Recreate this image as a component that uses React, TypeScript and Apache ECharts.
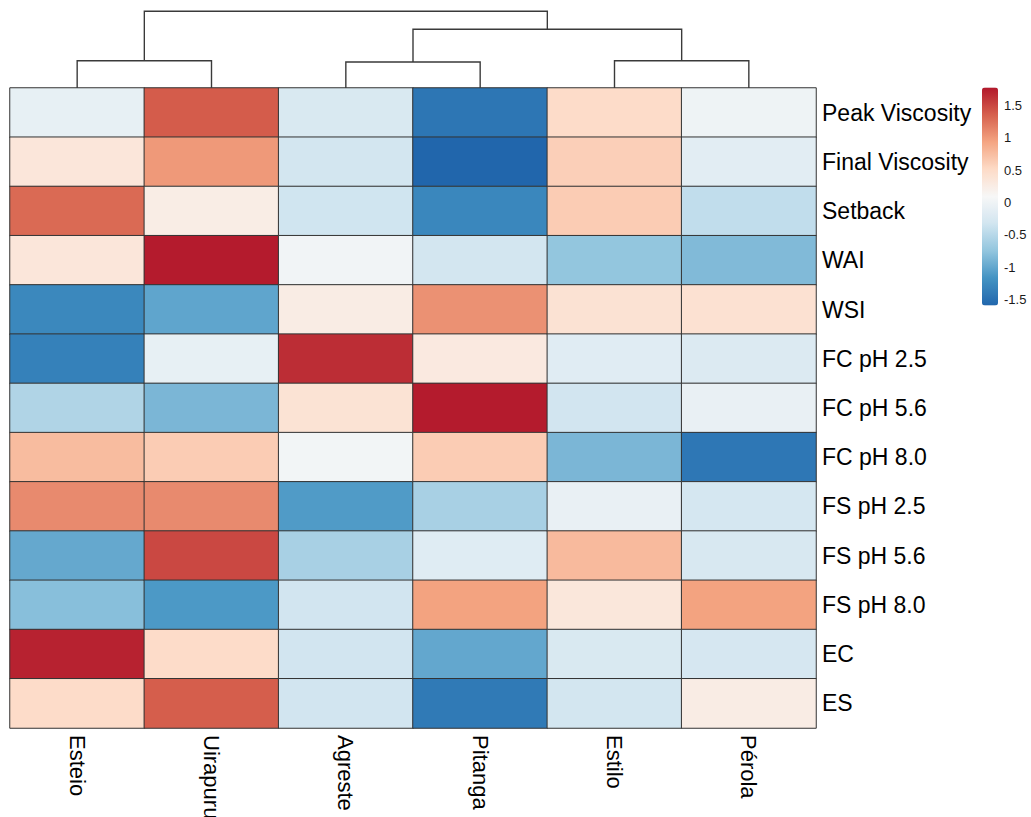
import React, { useEffect, useRef } from "react";
import * as echarts from "echarts";

// Columns (cultivars) in dendrogram order
const cultivars = ["Esteio", "Uirapuru", "Agreste", "Pitanga", "Estilo", "Pérola"];

// Rows (traits), top to bottom
const traits = [
  "Peak Viscosity",
  "Final Viscosity",
  "Setback",
  "WAI",
  "WSI",
  "FC pH 2.5",
  "FC pH 5.6",
  "FC pH 8.0",
  "FS pH 2.5",
  "FS pH 5.6",
  "FS pH 8.0",
  "EC",
  "ES",
];

// Scaled values per cultivar, in trait order
const esteio = [-0.08, 0.35, 1.3, 0.35, -1.27, -1.34, -0.55, 0.76, 1.1, -0.99, -0.8, 1.72, 0.5];
const uirapuru = [1.38, 1.01, 0.25, 1.76, -1.02, -0.08, -0.87, 0.63, 1.1, 1.5, -1.12, 0.5, 1.37];
const agreste = [-0.24, -0.3, -0.33, 0.03, 0.26, 1.66, 0.4, 0.04, -1.1, -0.6, -0.32, -0.32, -0.32];
const pitanga = [-1.44, -1.59, -1.28, -0.3, 1.06, 0.3, 1.76, 0.63, -0.6, -0.17, 0.95, -1.0, -1.4];
const estilo = [0.5, 0.61, 0.63, -0.74, 0.41, -0.16, -0.32, -0.87, -0.06, 0.77, 0.34, -0.24, -0.3];
const perola = [0.0, -0.14, -0.43, -0.84, 0.42, -0.2, -0.06, -1.43, -0.28, -0.25, 0.95, -0.27, 0.26];

// Column dendrogram (hclust-style merge table: negative = leaf, positive = earlier merge)
const mergePairs = [
  [-1, -2],
  [-3, -4],
  [-5, -6],
  [2, 3],
  [1, 4],
];
const mergeHeights = [2.73, 2.6, 2.73, 5.87, 7.67];

// Colour scale
const colorMin = -1.59;
const colorMax = 1.78;
const legendTicks = [-1.5, -1, -0.5, 0, 0.5, 1, 1.5];
const palette = ["#2166AC", "#4393C3", "#92C5DE", "#D1E5F0", "#F7F7F7", "#FDDBC7", "#F4A582", "#D6604D", "#B2182B"];

const FONT = "'Liberation Sans', Arial, Helvetica, sans-serif";

function buildHeatData() {
  const cols = [esteio, uirapuru, agreste, pitanga, estilo, perola];
  const data: any[] = [];
  cols.forEach((col, ci) => {
    col.forEach((v, ri) => data.push([ci, ri, v]));
  });
  return data;
}

function buildDendroLines() {
  const pos: { x: number; y: number }[] = [];
  const nodeOf = (id: number) => (id < 0 ? { x: -id - 1 + 0.5, y: 0 } : pos[id - 1]);
  const lines: number[][][] = [];
  mergePairs.forEach(([a, b], i) => {
    const l = nodeOf(a);
    const r = nodeOf(b);
    const h = mergeHeights[i];
    lines.push([
      [l.x, l.y],
      [l.x, h],
      [r.x, h],
      [r.x, r.y],
    ]);
    pos.push({ x: (l.x + r.x) / 2, y: h });
  });
  return lines;
}

export default function App() {
  const ref = useRef<HTMLDivElement>(null);

  useEffect(() => {
    if (!ref.current) return;
    const chart = echarts.init(ref.current, null, { renderer: "svg" });
    const option: any = {
      animation: false,
      backgroundColor: "#ffffff",
      textStyle: { fontFamily: FONT },
      grid: [
        { left: 10, top: 88, width: 806, height: 640, outerBoundsMode: "none" },
        { left: 10, top: 8, width: 806, height: 80, outerBoundsMode: "none" },
        { left: 982, top: 87.5, width: 16, height: 218, outerBoundsMode: "none" },
      ],
      xAxis: [
        {
          type: "category",
          gridIndex: 0,
          data: cultivars,
          position: "bottom",
          axisLine: { show: false },
          axisTick: { show: false },
          splitLine: { show: false },
          axisLabel: {
            rotate: -90,
            margin: 7,
            fontSize: 22,
            color: "#000",
            fontFamily: FONT,
            interval: 0,
          },
        },
        { type: "value", gridIndex: 1, min: 0, max: 6, show: false },
        { type: "value", gridIndex: 2, min: 0, max: 1, show: false },
      ],
      yAxis: [
        {
          type: "category",
          gridIndex: 0,
          data: traits,
          inverse: true,
          position: "right",
          axisLine: { show: false },
          axisTick: { show: false },
          splitLine: { show: false },
          axisLabel: {
            margin: 6,
            fontSize: 23,
            color: "#000",
            fontFamily: FONT,
            interval: 0,
          },
        },
        { type: "value", gridIndex: 1, min: 0, max: 8, show: false },
        {
          type: "value",
          gridIndex: 2,
          min: colorMin,
          max: colorMax,
          position: "right",
          axisLine: { show: false },
          axisTick: { show: false },
          splitLine: { show: false },
          axisLabel: {
            customValues: legendTicks,
            margin: 6,
            fontSize: 13,
            color: "#1a1a1a",
            fontFamily: FONT,
          },
        },
      ],
      visualMap: {
        type: "continuous",
        seriesIndex: 0,
        min: colorMin,
        max: colorMax,
        left: 982,
        top: 87.5,
        itemWidth: 16,
        itemHeight: 218,
        padding: 0,
        calculable: false,
        hoverLink: false,
        inRange: { color: palette },
      },
      series: [
        {
          type: "heatmap",
          xAxisIndex: 0,
          yAxisIndex: 0,
          data: buildHeatData(),
          itemStyle: { borderColor: "#333333", borderWidth: 1 },
          emphasis: { disabled: true },
          silent: true,
        },
        {
          type: "lines",
          coordinateSystem: "cartesian2d",
          xAxisIndex: 1,
          yAxisIndex: 1,
          polyline: true,
          silent: true,
          data: buildDendroLines().map((c) => ({ coords: c })),
          lineStyle: { color: "#3a3a3a", width: 1.4, opacity: 1 },
        },
        {
          type: "scatter",
          xAxisIndex: 2,
          yAxisIndex: 2,
          data: [],
          silent: true,
        },
      ],
    };
    chart.setOption(option);
    return () => chart.dispose();
  }, []);

  return (
    <div
      ref={ref}
      style={{ position: "absolute", left: 0, top: 0, width: 1031, height: 817 }}
    />
  );
}
